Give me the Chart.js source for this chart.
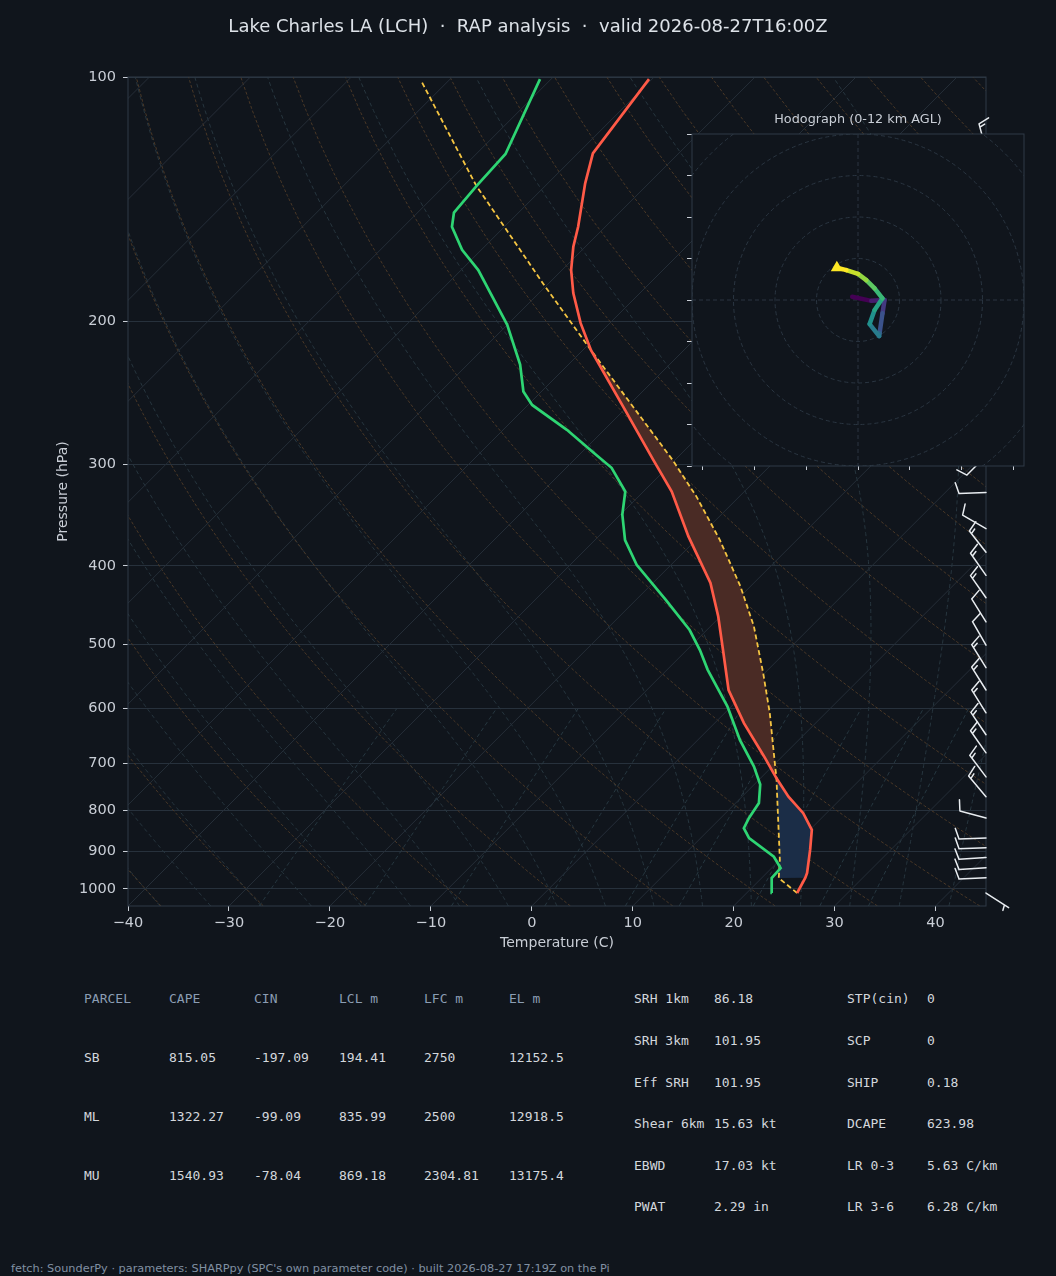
<!DOCTYPE html>
<html>
<head>
<meta charset="utf-8">
<title>Skew-T LCH</title>
<script src="https://cdn.jsdelivr.net/npm/chart.js@4.4.1/dist/chart.umd.min.js"></script>
<style>
  html, body { margin: 0; padding: 0; background: #10151c; }
  #page { position: relative; width: 1056px; height: 1276px; background: #10151c; overflow: hidden; }
  #skewBox { position: absolute; left: 0; top: 0; width: 1056px; height: 960px; }
  #hodoBox { position: absolute; left: 660px; top: 100px; width: 396px; height: 380px; }
  .t { position: absolute; font-family: 'DejaVu Sans Mono', monospace; font-size: 13px; line-height: 16px; color: #d3d7dc; white-space: pre; }
  .hd { color: #8b9db3; }
  #foot { position: absolute; left: 11px; top: 1262px; font-family: 'DejaVu Sans', sans-serif; font-size: 11.3px; line-height: 14px; color: #8090a2; white-space: pre; }
</style>
</head>
<body>
<div id="page">
  <div id="skewBox"><canvas id="skewT"></canvas></div>
  <div id="hodoBox"><canvas id="hodo"></canvas></div>
  <div id="stats"></div>
  <div id="foot">fetch: SounderPy · parameters: SHARPpy (SPC's own parameter code) · built 2026-08-27 17:19Z on the Pi</div>
</div>
<script>
// sounding, hPa / degC
const tempP = [1012, 969, 956, 895, 846, 807, 770, 731, 687, 625, 569, 512, 462, 420, 368, 324, 296, 259.5, 217, 201, 184.6, 172.9, 161.8, 152.9, 135.2, 124.2, 100.6];
const tempC = [25.0, 24.3, 24.0, 22.0, 20.2, 17.7, 14.6, 11.6, 8.2, 2.9, -1.9, -6.1, -10.2, -14.3, -21.1, -27.2, -32.2, -39.4, -49.2, -52.9, -56.6, -59.1, -61.2, -62.7, -66.3, -68.5, -70.3];
const dewP = [1012, 970, 943, 913, 866, 842, 818, 784, 744, 707, 656, 596, 537, 508, 480, 441, 399, 372, 346, 324, 303, 291, 272, 253.5, 244, 226, 202, 172.9, 163.3, 152.9, 146.9, 136.2, 124.4, 100.6];
const dewC = [22.5, 21.0, 20.9, 19.1, 14.8, 13.3, 12.8, 12.3, 10.6, 8.2, 4.2, -0.4, -6.0, -8.7, -11.7, -17.0, -23.4, -27.0, -29.8, -31.8, -35.5, -38.6, -43.7, -49.6, -51.8, -54.8, -60.0, -68.3, -71.9, -75.2, -76.4, -76.8, -77.1, -81.1];
const parcelP = [1012, 970, 921, 762, 731, 707, 608, 543, 475, 424, 372, 329, 296, 217, 181, 136, 100.9];
const parcelC = [25.0, 21.7, 20.0, 13.1, 11.6, 10.3, 4.5, -0.1, -5.7, -11.0, -17.6, -24.2, -30.3, -49.2, -60.1, -76.9, -92.8];
const lclP = 970, lfcP = 731, elP = 217;

// wind barbs on the right edge (deg, kt)
const barbP = [123, 293, 325, 360, 385, 411, 438, 469, 501, 534, 569, 607, 646, 680, 728, 770, 818, 866, 890, 915, 942, 969, 1012];
const barbDir = [345, 225, 268, 300, 322, 325, 325, 328, 330, 328, 328, 328, 326, 325, 323, 320, 285, 268, 268, 266, 266, 267, 123];
const barbKt = [15, 10, 10, 10, 15, 15, 15, 10, 10, 15, 15, 15, 15, 15, 15, 15, 10, 10, 10, 10, 10, 10, 5];

// hodograph u/v
const hodoU = [-1.4, 3.2, 6.4, 5.9, 5.2, 5.1, 2.8, 4.0, 5.9, 4.0, 2.0, 0.0, -2.8, -5.1];
const hodoV = [0.8, -0.2, 0.0, -3.2, -8.0, -8.7, -5.8, -2.4, 0.4, 2.8, 4.8, 6.3, 7.2, 7.8];

const tempTicks = [-40, -30, -20, -10, 0, 10, 20, 30, 40];
const presTicks = [100, 200, 300, 400, 500, 600, 700, 800, 900, 1000];
const hodoTicksX = [-37.5, -25, -12.5, 0, 12.5, 25, 37.5];
const hodoTicksY = [-40, -30, -20, -10, 0, 10, 20, 30, 40];
const hodoRings = [10, 20, 30, 40, 50];

// background lines
const isotherms = [-120, -110, -100, -90, -80, -70, -60, -50, -40, -30, -20, -10, 0, 10, 20, 30, 40];
const dryStartC = [-40, -30, -20, -10, 0, 10, 20, 30, 40, 50, 60, 70, 80, 90, 100, 110, 120, 130, 140, 150, 160, 170, 180, 190, 200];
const moistStartC = [-40, -35, -30, -25, -20, -15, -10, -5, 0, 5, 10, 15, 20, 25, 30, 35, 40, 45];
const mixRatios = [0.0004, 0.001, 0.002, 0.004, 0.007, 0.01, 0.016, 0.024, 0.032];

const titleText = 'Lake Charles LA (LCH)  \u00b7  RAP analysis  \u00b7  valid 2026-08-27T16:00Z';

Chart.defaults.font.family = "'DejaVu Sans', sans-serif";
Chart.defaults.color = '#c9ced6';

const P_BOT = 1050;
const SKEW = 80.42; // degC shift per decade of pressure, 45 deg isotherms
function pt(T, p) {
  return { x: T + SKEW * Math.log10(P_BOT / p), y: p };
}

const guideP = [];
for (let p = 1050; p >= 100; p -= 10) guideP.push(p);

function dryLine(t0) {
  return guideP.map(p => pt((t0 + 273.15) * Math.pow(p / 1000, 0.2857) - 273.15, p));
}

function satMix(Tk, p) {
  const es = 6.112 * Math.exp(17.67 * (Tk - 273.15) / (Tk - 29.65));
  return 0.622 * es / (p - es);
}
function moistGrad(Tk, p) {
  const rs = satMix(Tk, p);
  const Rd = 287.04, Cp = 1005.7, Lv = 2.501e6, eps = 0.622;
  return (Rd * Tk + Lv * rs) / (Cp + Lv * Lv * rs * eps / (Rd * Tk * Tk)) / p;
}
function rk4(Tk, p, dp) {
  const k1 = moistGrad(Tk, p);
  const k2 = moistGrad(Tk + k1 * dp / 2, p + dp / 2);
  const k3 = moistGrad(Tk + k2 * dp / 2, p + dp / 2);
  const k4 = moistGrad(Tk + k3 * dp, p + dp);
  return Tk + dp * (k1 + 2 * k2 + 2 * k3 + k4) / 6;
}
function moistLine(t0) {
  let Tk = t0 + 273.15;
  for (let p = 1000; p < 1050; p += 5) Tk = rk4(Tk, p, 5);
  const out = [];
  for (let p = 1050; p >= 100; p -= 5) {
    out.push(pt(Tk - 273.15, p));
    Tk = rk4(Tk, p, -5);
  }
  return out;
}

function mixLine(w) {
  return guideP.filter(p => p >= 600).map(p => {
    const e = w * p / (0.622 + w);
    const l = Math.log(e / 6.112);
    return pt(243.5 * l / (17.67 - l), p);
  });
}

function guide(data, color, dash) {
  return { data, showLine: true, borderColor: color, borderWidth: 1, borderDash: dash, pointRadius: 0, fill: false, order: 9 };
}

// area between parcel and environment between two pressures
function band(pTop, pBot) {
  const a = parcelP.map((p, i) => [p, parcelC[i]]).filter(([p]) => p >= pTop && p <= pBot);
  const b = tempP.map((p, i) => [p, tempC[i]]).filter(([p]) => p >= pTop && p <= pBot).reverse();
  return a.concat(b).map(([p, t]) => pt(t, p));
}

const datasets = [];
isotherms.forEach(t => datasets.push(guide([pt(t, 1050), pt(t, 100)], '#252e38', [])));
dryStartC.forEach(t => datasets.push(guide(dryLine(t), '#4a3827', [3, 2])));
moistStartC.forEach(t => datasets.push(guide(moistLine(t), '#27363f', [4, 3])));
mixRatios.forEach(w => datasets.push(guide(mixLine(w), '#273841', [4, 3])));

datasets.push({ data: band(elP, lfcP), showLine: true, borderWidth: 0, borderColor: 'rgba(0,0,0,0)', backgroundColor: '#4a2b25', fill: 'shape', pointRadius: 0, order: 3 });
datasets.push({ data: band(lfcP, lclP), showLine: true, borderWidth: 0, borderColor: 'rgba(0,0,0,0)', backgroundColor: '#1b2d47', fill: 'shape', pointRadius: 0, order: 3 });

datasets.push({ data: parcelP.map((p, i) => pt(parcelC[i], p)), showLine: true, borderColor: '#f5c542', borderWidth: 1.8, borderDash: [5, 3], pointRadius: 0, fill: false, order: 1 });
datasets.push({ data: dewP.map((p, i) => pt(dewC[i], p)), showLine: true, borderColor: '#2ed573', borderWidth: 2.7, pointRadius: 0, fill: false, order: 0 });
datasets.push({ data: tempP.map((p, i) => pt(tempC[i], p)), showLine: true, borderColor: '#ff5a47', borderWidth: 2.7, pointRadius: 0, fill: false, order: 0 });

const framePlugin = {
  id: 'frame',
  afterDatasetsDraw(chart) {
    const { ctx, chartArea: a } = chart;
    ctx.save();
    ctx.strokeStyle = '#2f3a46';
    ctx.lineWidth = 1;
    ctx.strokeRect(a.left, a.top, a.right - a.left, a.bottom - a.top);
    ctx.restore();
  }
};

const barbPlugin = {
  id: 'barbs',
  afterDatasetsDraw(chart) {
    const { ctx, chartArea, scales } = chart;
    const L = 27, spacing = 0.125 * L, fh = 0.4 * L, fw = 0.25 * L;
    ctx.save();
    ctx.strokeStyle = '#e8ecf0';
    ctx.lineWidth = 1.5;
    ctx.lineCap = 'round';
    ctx.lineJoin = 'round';
    barbP.forEach((p, i) => {
      const x0 = chartArea.right, y0 = scales.y.getPixelForValue(p);
      const th = barbDir[i] * Math.PI / 180;
      const dx = Math.sin(th), dy = -Math.cos(th);
      const nx = -dy, ny = dx;
      const spd = Math.round(barbKt[i] / 5) * 5;
      const full = Math.floor(spd / 10), half = spd % 10 >= 5;
      ctx.beginPath();
      ctx.moveTo(x0, y0);
      ctx.lineTo(x0 + dx * L, y0 + dy * L);
      let off = L;
      for (let k = 0; k < full; k++) {
        const bx = x0 + dx * off, by = y0 + dy * off;
        ctx.moveTo(bx, by);
        ctx.lineTo(bx + dx * fw / 2 + nx * fh, by + dy * fw / 2 + ny * fh);
        off -= spacing;
      }
      if (half) {
        if (off === L) off -= 1.5 * spacing;
        const bx = x0 + dx * off, by = y0 + dy * off;
        ctx.moveTo(bx, by);
        ctx.lineTo(bx + dx * fw / 4 + nx * fh / 2, by + dy * fw / 4 + ny * fh / 2);
      }
      ctx.stroke();
    });
    ctx.restore();
  }
};

const minus = v => (v < 0 ? '\u2212' + Math.abs(v) : String(v));

new Chart(document.getElementById('skewT'), {
  type: 'scatter',
  data: { datasets },
  options: {
    animation: false,
    responsive: true,
    maintainAspectRatio: false,
    events: [],
    layout: { padding: { left: 0, right: 0, top: 0, bottom: 8.6 } },
    plugins: {
      legend: { display: false },
      tooltip: { enabled: false },
      title: {
        display: true, text: titleText, color: '#dde2e8',
        font: { size: 18, weight: 'normal' },
        padding: { top: 17, bottom: 38.4 }
      }
    },
    scales: {
      x: {
        type: 'linear', position: 'bottom', min: -40, max: 45,
        afterBuildTicks: s => { s.ticks = tempTicks.map(v => ({ value: v })); },
        afterFit: s => { s.height = 45.4; },
        ticks: { color: '#c9ced6', font: { size: 14.5 }, padding: 4, maxRotation: 0, autoSkip: false, callback: minus },
        grid: { drawOnChartArea: false, drawTicks: true, tickLength: 5, tickColor: '#c9ced6' },
        border: { display: false },
        title: { display: true, text: 'Temperature (C)', color: '#c9ced6', font: { size: 14 }, padding: { top: 0, bottom: 0 } }
      },
      y: {
        type: 'logarithmic', position: 'left', reverse: true, min: 100, max: 1050,
        afterBuildTicks: s => { s.ticks = presTicks.map(v => ({ value: v })); },
        afterFit: s => { s.width = 128; },
        ticks: { color: '#c9ced6', font: { size: 14.5 }, padding: 7, autoSkip: false, callback: v => String(v) },
        grid: { color: '#27313c', lineWidth: 1, drawTicks: true, tickLength: 5, tickColor: '#c9ced6' },
        border: { display: false },
        title: { display: true, text: 'Pressure (hPa)', color: '#c9ced6', font: { size: 14 }, padding: { top: 54.6, bottom: 0 } }
      },
      yR: {
        type: 'linear', position: 'right', display: true, min: 0, max: 1,
        grid: { display: false }, border: { display: false }, ticks: { display: false },
        afterFit: s => { s.width = 70; }
      }
    }
  },
  plugins: [framePlugin, barbPlugin]
});

// hodograph inset
const viridisStops = ['#440154', '#472d7b', '#3b528b', '#2c728e', '#21918c', '#28ae80', '#5ec962', '#addc30', '#fde725'];
function hexRgb(h) { return [1, 3, 5].map(i => parseInt(h.slice(i, i + 2), 16)); }
function viridis(f) {
  f = Math.min(1, Math.max(0, f));
  const s = f * (viridisStops.length - 1);
  const i = Math.min(Math.floor(s), viridisStops.length - 2);
  const t = s - i;
  const a = hexRgb(viridisStops[i]), b = hexRgb(viridisStops[i + 1]);
  const c = a.map((v, k) => Math.round(v + (b[k] - v) * t));
  return 'rgb(' + c.join(',') + ')';
}

const hodoBack = {
  id: 'hodoBack',
  beforeDraw(chart) {
    const { ctx, chartArea: a } = chart;
    ctx.save();
    ctx.fillStyle = '#10151c';
    ctx.fillRect(a.left, a.top, a.right - a.left, a.bottom - a.top);
    ctx.restore();
  },
  beforeDatasetsDraw(chart) {
    const { ctx, chartArea: a, scales } = chart;
    const cx = scales.x.getPixelForValue(0), cy = scales.y.getPixelForValue(0);
    ctx.save();
    ctx.beginPath();
    ctx.rect(a.left, a.top, a.right - a.left, a.bottom - a.top);
    ctx.clip();
    ctx.strokeStyle = '#2a3541';
    ctx.lineWidth = 1;
    ctx.setLineDash([4, 3]);
    hodoRings.forEach(r => {
      const rad = scales.x.getPixelForValue(r) - cx;
      ctx.beginPath();
      ctx.arc(cx, cy, rad, 0, Math.PI * 2);
      ctx.stroke();
    });
    ctx.beginPath();
    ctx.moveTo(a.left, cy); ctx.lineTo(a.right, cy);
    ctx.moveTo(cx, a.top); ctx.lineTo(cx, a.bottom);
    ctx.stroke();
    ctx.restore();
  },
  afterDraw(chart) {
    const { ctx, chartArea: a } = chart;
    ctx.save();
    ctx.strokeStyle = '#2f3a46';
    ctx.lineWidth = 1;
    ctx.strokeRect(a.left, a.top, a.right - a.left, a.bottom - a.top);
    ctx.restore();
  }
};

new Chart(document.getElementById('hodo'), {
  type: 'scatter',
  data: {
    datasets: [{
      data: hodoU.map((u, i) => ({ x: u, y: hodoV[i] })),
      showLine: true,
      borderWidth: 4.5,
      borderCapStyle: 'round',
      borderJoinStyle: 'round',
      pointRadius: c => (c.dataIndex === hodoU.length - 1 ? 2.5 : 0),
      pointStyle: 'triangle',
      pointBackgroundColor: '#fde725',
      pointBorderColor: '#fde725',
      segment: { borderColor: c => viridis(c.p0DataIndex / (hodoU.length - 2)) }
    }]
  },
  options: {
    animation: false,
    responsive: true,
    maintainAspectRatio: false,
    events: [],
    layout: { padding: { left: 0, right: 0, top: 0, bottom: 6 } },
    plugins: {
      legend: { display: false },
      tooltip: { enabled: false },
      title: {
        display: true, text: 'Hodograph (0-12 km AGL)', color: '#c9ced6',
        font: { size: 12.8, weight: 'normal' },
        padding: { top: 12.3, bottom: 6.34 }
      }
    },
    scales: {
      x: {
        type: 'linear', position: 'bottom', min: -40, max: 40,
        afterBuildTicks: s => { s.ticks = hodoTicksX.map(v => ({ value: v })); },
        afterFit: s => { s.height = 8; },
        ticks: { display: false },
        grid: { drawOnChartArea: false, drawTicks: true, tickLength: 4, tickColor: '#c9ced6' },
        border: { display: false }
      },
      y: {
        type: 'linear', position: 'left', min: -40, max: 40,
        afterBuildTicks: s => { s.ticks = hodoTicksY.map(v => ({ value: v })); },
        afterFit: s => { s.width = 32; },
        ticks: { display: false },
        grid: { drawOnChartArea: false, drawTicks: true, tickLength: 5, tickColor: '#c9ced6' },
        border: { display: false }
      },
      yR: {
        type: 'linear', position: 'right', display: true, min: 0, max: 1,
        grid: { display: false }, border: { display: false }, ticks: { display: false },
        afterFit: s => { s.width = 32; }
      }
    }
  },
  plugins: [hodoBack]
});

// parameter table
const parcelHead = ['PARCEL', 'CAPE', 'CIN', 'LCL m', 'LFC m', 'EL m'];
const parcelRows = [
  ['SB', '815.05', '-197.09', '194.41', '2750', '12152.5'],
  ['ML', '1322.27', '-99.09', '835.99', '2500', '12918.5'],
  ['MU', '1540.93', '-78.04', '869.18', '2304.81', '13175.4']
];
const kinNames = ['SRH 1km', 'SRH 3km', 'Eff SRH', 'Shear 6km', 'EBWD', 'PWAT'];
const kinVals = ['86.18', '101.95', '101.95', '15.63 kt', '17.03 kt', '2.29 in'];
const idxNames = ['STP(cin)', 'SCP', 'SHIP', 'DCAPE', 'LR 0-3', 'LR 3-6'];
const idxVals = ['0', '0', '0.18', '623.98', '5.63 C/km', '6.28 C/km'];

const colX = [84, 169, 254, 339, 424, 509];
const rowY = [999, 1058, 1117, 1176];
const rightX = [634, 714, 847, 927];
const rightY = [999, 1041, 1083, 1124, 1166, 1207];

const stats = document.getElementById('stats');
function put(text, x, y, cls) {
  const d = document.createElement('div');
  d.className = 't' + (cls ? ' ' + cls : '');
  d.textContent = text;
  d.style.left = x + 'px';
  d.style.top = (y - 8) + 'px';
  stats.appendChild(d);
}
parcelHead.forEach((h, i) => put(h, colX[i], rowY[0], 'hd'));
parcelRows.forEach((row, r) => row.forEach((v, i) => put(v, colX[i], rowY[r + 1])));
kinNames.forEach((n, i) => { put(n, rightX[0], rightY[i]); put(kinVals[i], rightX[1], rightY[i]); });
idxNames.forEach((n, i) => { put(n, rightX[2], rightY[i]); put(idxVals[i], rightX[3], rightY[i]); });
</script>
</body>
</html>
